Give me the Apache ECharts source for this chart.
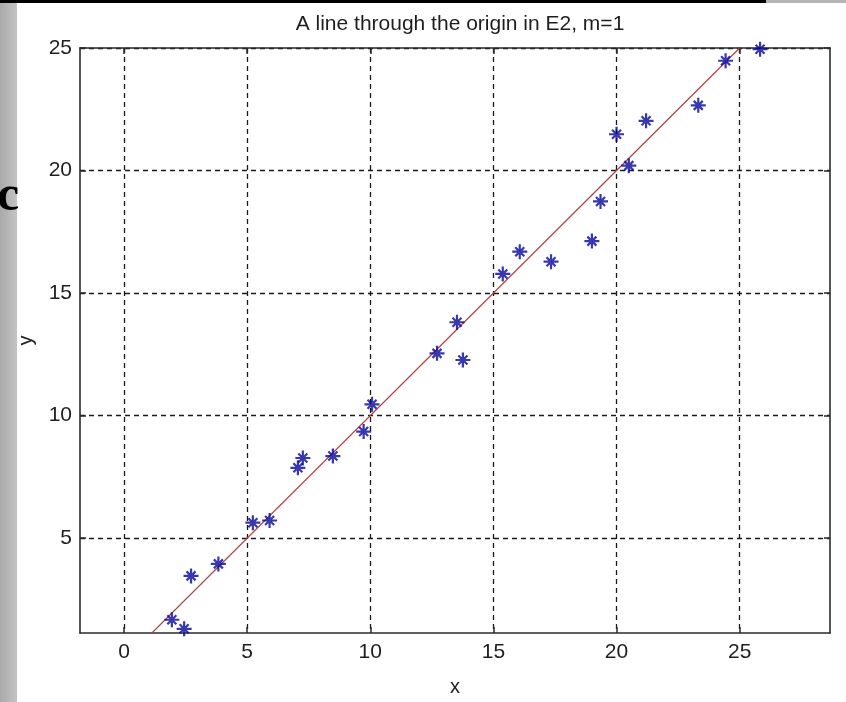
<!DOCTYPE html>
<html>
<head>
<meta charset="utf-8">
<script src="https://cdn.jsdelivr.net/npm/echarts@6/dist/echarts.min.js"></script>
<style>
  html, body { margin: 0; padding: 0; background: #fff; }
  #chart { width: 846px; height: 702px; }
</style>
</head>
<body>
<div id="chart"></div>
<script>
// data
var pointX = [1.94, 2.44, 2.72, 3.83, 5.23, 5.91, 7.06, 7.26, 8.48, 9.73, 10.07,
  12.71, 13.52, 13.76, 15.38, 16.07, 17.34, 19.0, 19.35, 20.0, 20.5, 21.2, 23.32, 24.43, 25.83];
var pointY = [1.67, 1.30, 3.46, 3.95, 5.63, 5.72, 7.87, 8.27, 8.35, 9.35, 10.46,
  12.54, 13.81, 12.27, 15.78, 16.69, 16.28, 17.12, 18.74, 21.48, 20.2, 22.03, 22.66, 24.48, 24.95];
var lineX = [1.1, 25];
var lineY = [1.1, 25];
var xTicks = [0, 5, 10, 15, 20, 25];
var yTicks = [5, 10, 15, 20, 25];

var chart = echarts.init(document.getElementById("chart"));

var fontFam = "Liberation Sans, Arial, sans-serif";
var starPath = "path://M0,-10L0,10M-10,0L10,0M-6,-6L6,6M-6,6L6,-6";

function axisBase(ticks, show) {
  return {
    type: "value",
    axisLine: { show: true, onZero: false, lineStyle: { color: "#2b2b2b", width: 1.6 } },
    axisTick: { show: true, inside: true, length: 6, customValues: ticks, lineStyle: { color: "#2b2b2b", width: 1.5 } },
    axisLabel: { show: show, customValues: ticks, color: "#1e1e1e", fontSize: 21, fontFamily: fontFam },
    splitLine: { show: false }
  };
}

var xBottom = axisBase(xTicks, true);
xBottom.min = -1.79; xBottom.max = 28.67;
xBottom.position = "bottom";
xBottom.axisLabel.margin = 9;
xBottom.splitLine = { show: true, lineStyle: { color: "#1a1a1a", type: [5, 4], width: 1.3 } };
xBottom.name = "x";
xBottom.nameLocation = "middle";
xBottom.nameGap = 44;
xBottom.nameTextStyle = { color: "#1e1e1e", fontSize: 20, fontFamily: fontFam };

var xTop = axisBase(xTicks, false);
xTop.min = -1.79; xTop.max = 28.67;
xTop.position = "top";

var yLeft = axisBase(yTicks, true);
yLeft.min = 1.13; yLeft.max = 25;
yLeft.position = "left";
yLeft.axisLabel.margin = 8;
yLeft.splitLine = { show: true, lineStyle: { color: "#1a1a1a", type: [5, 4], width: 1.3 } };
yLeft.name = "y";
yLeft.nameLocation = "middle";
yLeft.nameGap = 44;
yLeft.nameRotate = 90;
yLeft.nameTextStyle = { color: "#1e1e1e", fontSize: 20, fontFamily: fontFam };

var yRight = axisBase(yTicks, false);
yRight.min = 1.13; yRight.max = 25;
yRight.position = "right";

var stars = pointX.map(function (x, i) { return [x, pointY[i]]; });
var fitLine = lineX.map(function (x, i) { return [x, lineY[i]]; });

chart.setOption({
  backgroundColor: "#ffffff",
  animation: false,
  title: {
    text: "A line through the origin in E2, m=1",
    left: 455, top: 9, textAlign: "center",
    textStyle: { color: "#1e1e1e", fontSize: 21, fontWeight: "normal", fontFamily: fontFam }
  },
  grid: { left: 80, right: 16, top: 48, bottom: 62, show: true, backgroundColor: "#fff", borderWidth: 0 },
  xAxis: [xBottom, xTop],
  yAxis: [yLeft, yRight],
  graphic: [
    { type: "rect", left: 0, top: 0, shape: { width: 17, height: 702 },
      style: { fill: new echarts.graphic.LinearGradient(0, 0, 1, 0, [
        { offset: 0, color: "#a9a9a9" }, { offset: 1, color: "#c4c4c4" }]) } },
    { type: "rect", left: 0, top: 0, shape: { width: 766, height: 3 }, style: { fill: "#000" } },
    { type: "rect", left: 766, top: 0, shape: { width: 80, height: 3 }, style: { fill: "#b5b5b5" } },
    { type: "text", left: -3, top: 172,
      style: { text: "c", fill: "#000", font: "bold 50px 'Liberation Serif', serif" } }
  ],
  series: [
    {
      type: "line",
      data: fitLine,
      xAxisIndex: 0, yAxisIndex: 0,
      symbol: "none",
      clip: true,
      lineStyle: { color: "#b3403c", width: 1.2 },
      z: 3
    },
    {
      type: "scatter",
      data: stars,
      xAxisIndex: 0, yAxisIndex: 0,
      symbol: starPath,
      symbolSize: 15,
      clip: false,
      itemStyle: { color: "none", borderColor: "#05059a", borderWidth: 2.2 },
      z: 4
    }
  ]
});
</script>
</body>
</html>
